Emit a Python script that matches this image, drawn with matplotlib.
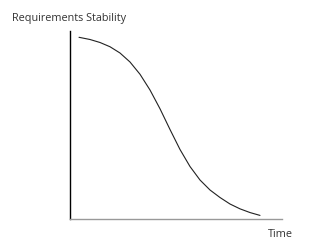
import matplotlib
matplotlib.use('Agg')
import matplotlib.pyplot as plt

# Values (time and stability in 0-100 units)
time_pts = [4.25, 9.43, 14.15, 18.87, 23.58, 28.30, 33.02, 37.74, 42.45, 47.17,
            51.89, 56.60, 61.32, 66.04, 70.75, 75.47, 80.19, 84.91, 89.62]
stability = [96.64, 95.47, 93.87, 91.60, 88.27, 83.47, 76.93, 68.53, 58.53, 47.47,
             36.80, 27.73, 20.53, 15.20, 11.20, 7.73, 5.15, 3.17, 1.65]

plt.rcParams['font.family'] = ['Open Sans', 'DejaVu Sans']

fig = plt.figure(figsize=(3.2, 2.49), dpi=100)
ax = fig.add_axes([70 / 320, 30.5 / 249, 212 / 320, 187.5 / 249])

ax.plot(time_pts, stability, color='#222222', lw=0.8,
        solid_joinstyle='round', solid_capstyle='round')

ax.set_xlim(0, 100)
ax.set_ylim(0, 100)
ax.set_xticks([]); ax.set_yticks([])
ax.spines['top'].set_visible(False)
ax.spines['right'].set_visible(False)
ax.spines['left'].set_color('black')
ax.spines['left'].set_linewidth(1.0)
ax.spines['bottom'].set_color('#999999')
ax.spines['bottom'].set_linewidth(1.0)

fig.text(12 / 320, 1 - 21 / 249, 'Requirements Stability', fontsize=7.8,
         color='#333333', va='baseline', ha='left')
fig.text(268 / 320, 1 - 237 / 249, 'Time', fontsize=7.8,
         color='#333333', va='baseline', ha='left')

fig.savefig('out.png', dpi=100)
